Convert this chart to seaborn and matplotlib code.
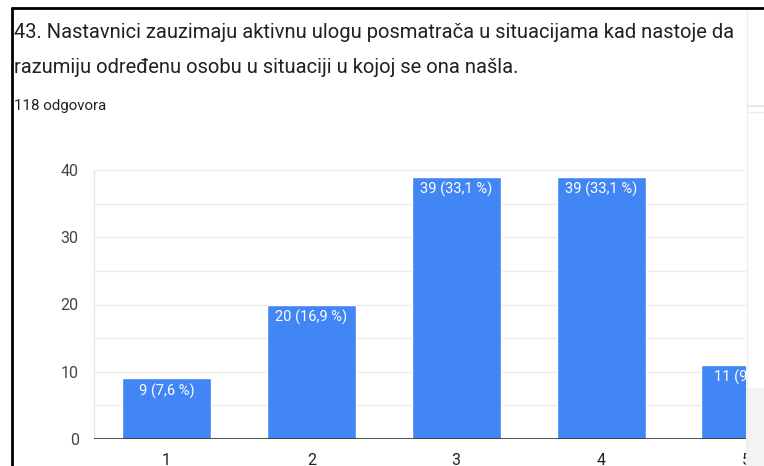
import matplotlib
matplotlib.use("Agg")
import matplotlib.pyplot as plt
import seaborn as sns
import pandas as pd
from matplotlib.patches import Rectangle
from matplotlib.lines import Line2D

categories = ["1", "2", "3", "4", "5"]
counts = [9, 20, 39, 39, 11]
percent_labels = ["7,6", "16,9", "33,1", "33,1", "9,3"]
y_ticks = [0, 10, 20, 30, 40]
title_lines = ["43. Nastavnici zauzimaju aktivnu ulogu posmatrača u situacijama kad nastoje da",
               "razumiju određenu osobu u situaciji u kojoj se ona našla."]
subtitle = "118 odgovora"

sns.set_theme(style="white")
plt.rcParams["font.family"] = ["Roboto", "DejaVu Sans"]

W, H = 764, 466
fig = plt.figure(figsize=(W / 100, H / 100), dpi=100)
fig.patch.set_facecolor("white")

def fx(px):
    return px / W

def fy(py):
    return 1 - py / H

ax = fig.add_axes([fx(94), fy(439), fx(746) - fx(94), fy(170) - fy(439)])

df = pd.DataFrame({"cat": categories, "count": counts})
sns.barplot(data=df, x="cat", y="count", color="#4285f4", width=0.615,
            saturation=1, ax=ax, zorder=3)

ax.set_xlim(-0.5, 4.0)
ax.set_ylim(0, 40)
ax.set_yticks(y_ticks)
ax.set_yticks(range(5, 40, 10), minor=True)
ax.grid(True, axis="y", which="both", color="#ececec", linewidth=1, zorder=0)
ax.set_xlabel("")
ax.set_ylabel("")
for s in ["top", "right", "bottom"]:
    ax.spines[s].set_visible(False)
ax.spines["left"].set_color("#e6e6e6")
ax.spines["left"].set_linewidth(1)
ax.axhline(0, color="#333333", linewidth=1.2, zorder=4)
ax.tick_params(axis="y", length=0, pad=11, labelsize=11.5, labelcolor="#444444")
ax.tick_params(axis="x", length=0, pad=10, labelsize=11.5, labelcolor="#222222")

for i, (c, p) in enumerate(zip(counts, percent_labels)):
    ax.annotate(f"{c} ({p} %)", xy=(i, c), xytext=(0, -3.5), textcoords="offset points",
                ha="center", va="top", color="white", fontsize=10.5,
                clip_on=True, zorder=5)

# title texts
for line, base in zip(title_lines, [38, 73]):
    fig.text(fx(14), fy(base), line, ha="left", va="baseline", fontsize=14.5,
             color="#202124")
fig.text(fx(14), fy(110), subtitle, ha="left", va="baseline", fontsize=10.8,
         color="#202124")

# right side panel (cut-off page area)
fig.add_artist(Rectangle((fx(746), 0), 1 - fx(746), 1, transform=fig.transFigure,
                         facecolor="white", edgecolor="none", zorder=20))
fig.add_artist(Rectangle((fx(746), 0), 1 - fx(746), fy(388), transform=fig.transFigure,
                         facecolor="#f3f3f3", edgecolor="none", zorder=21))
fig.add_artist(Line2D([fx(746.5), fx(746.5)], [0, fy(10)], transform=fig.transFigure,
                      color="#eeeeee", linewidth=1, zorder=22))
fig.add_artist(Line2D([fx(748), 1], [fy(106), fy(106)], transform=fig.transFigure,
                      color="#e8e8e8", linewidth=1.5, zorder=22))
fig.add_artist(Line2D([fx(748), 1], [fy(112), fy(112)], transform=fig.transFigure,
                      color="#eeeeee", linewidth=1, zorder=22))

# black screenshot frame
fig.add_artist(Line2D([fx(11.5), 1], [fy(7.5), fy(7.5)], transform=fig.transFigure,
                      color="black", linewidth=2, zorder=30))
fig.add_artist(Line2D([fx(11.5), fx(11.5)], [0, fy(7.5)], transform=fig.transFigure,
                      color="black", linewidth=2, zorder=30))

fig.savefig("out.png", dpi=100)
